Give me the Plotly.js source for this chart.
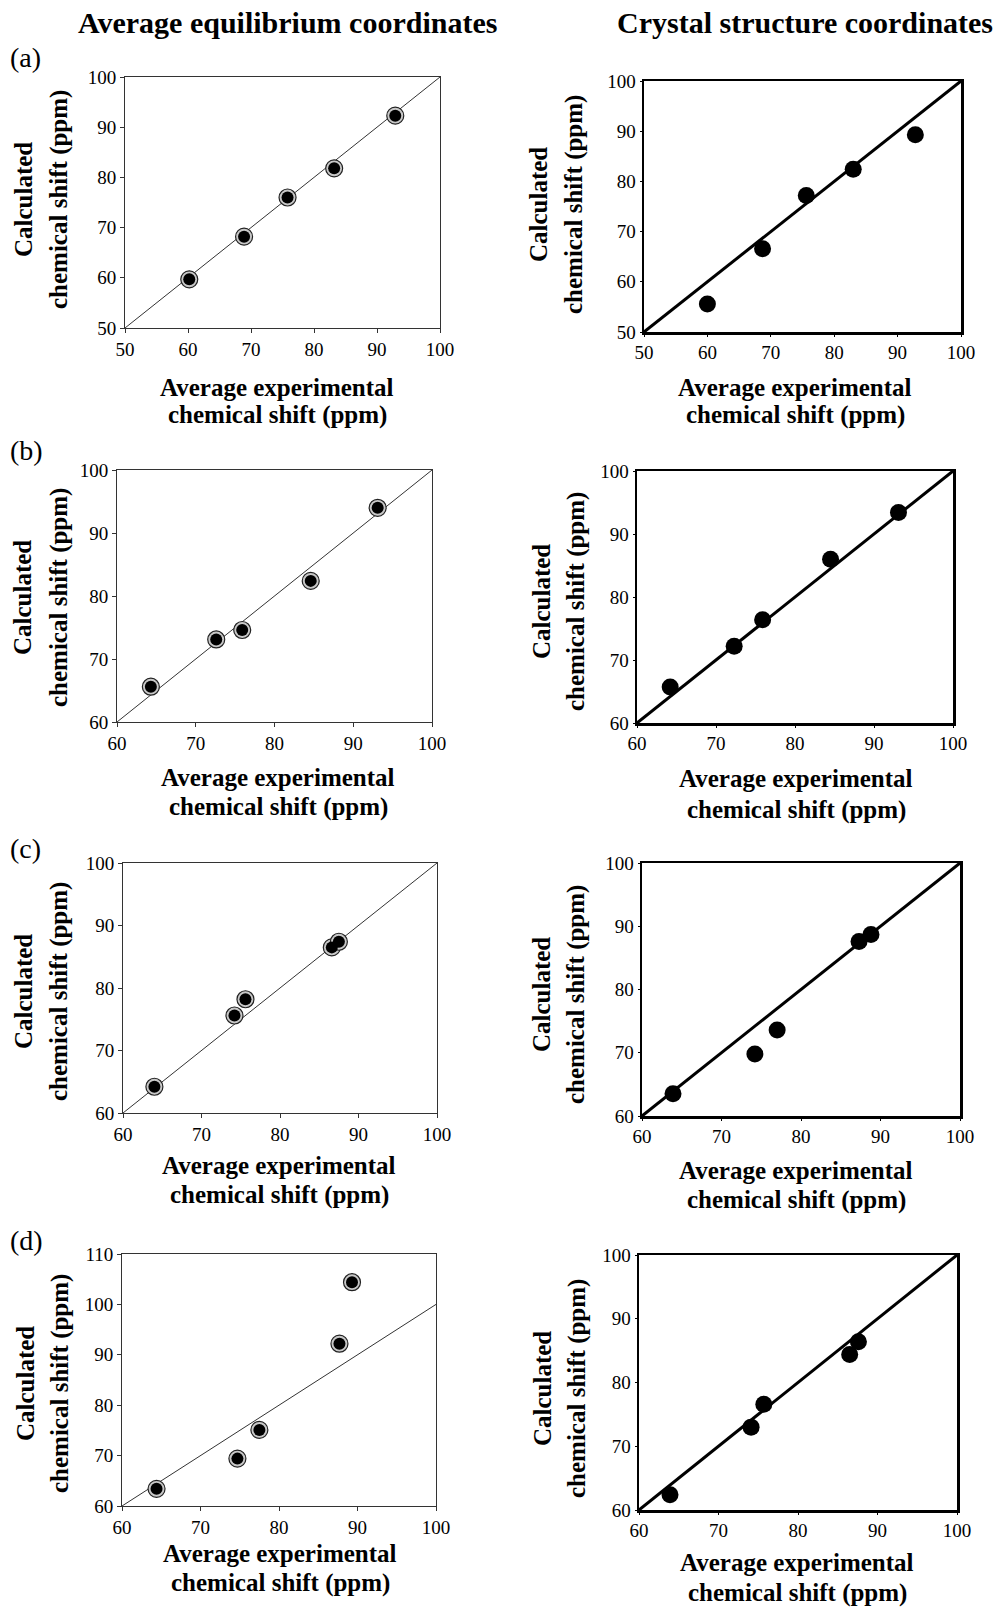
<!DOCTYPE html>
<html>
<head>
<meta charset="utf-8">
<script src="https://cdn.plot.ly/plotly-3.0.1.min.js"></script>
<style>html,body{margin:0;padding:0;background:#fff;}</style>
</head>
<body>
<div id="chart" style="width:995px;height:1607px;"></div>
<script>
// ---- data ----
var panelLabels = ["(a)", "(b)", "(c)", "(d)"];
var columnHeaders = ["Average equilibrium coordinates", "Crystal structure coordinates"];
var xTitleLines = ["Average experimental", "chemical shift (ppm)"];
var yTitleLines = ["Calculated", "chemical shift (ppm)"];

var aL_x = [60.2, 68.9, 75.8, 83.2, 92.9];
var aL_y = [59.7, 68.2, 76.0, 81.8, 92.3];
var aR_x = [60.0, 68.7, 75.6, 83.0, 92.8];
var aR_y = [55.6, 66.6, 77.2, 82.4, 89.3];
var bL_x = [64.3, 72.6, 75.9, 84.6, 93.1];
var bL_y = [65.6, 73.1, 74.6, 82.4, 94.0];
var bR_x = [64.2, 72.3, 75.9, 84.5, 93.1];
var bR_y = [65.7, 72.2, 76.4, 86.0, 93.4];
var cL_x = [64.0, 74.2, 75.6, 86.6, 87.5];
var cL_y = [64.2, 75.6, 78.2, 86.5, 87.4];
var cR_x = [63.9, 74.2, 77.0, 87.3, 88.8];
var cR_y = [63.5, 69.8, 73.6, 87.6, 88.7];
var dL_x = [64.4, 74.7, 77.5, 87.7, 89.3];
var dL_y = [63.4, 69.4, 75.1, 92.2, 104.4];
var dR_x = [63.9, 74.1, 75.7, 86.5, 87.6];
var dR_y = [62.4, 73.0, 76.6, 84.4, 86.4];

// axis ranges and y = x reference line ends
var xRanges = [[50,100],[50,100],[60,100],[60,100],[60,100],[60,100],[60,100],[60,100]];
var yRanges = [[50,100],[50,100],[60,100],[60,100],[60,100],[60,100],[60,110],[60,100]];
var refLineA = [50, 100];
var refLineBCD = [60, 100];

var seriesX = [aL_x, aR_x, bL_x, bR_x, cL_x, cR_x, dL_x, dR_x];
var seriesY = [aL_y, aR_y, bL_y, bR_y, cL_y, cR_y, dL_y, dR_y];
var refLines = [refLineA, refLineA, refLineBCD, refLineBCD, refLineBCD, refLineBCD, refLineBCD, refLineBCD];

// ---- layout geometry (pixels) ----
var W = 995, H = 1607;
var boxes = [
  [125, 440, 77, 328], [644, 961, 81, 332],
  [117, 432, 470, 722], [637, 953, 471, 723],
  [123, 437, 863, 1113], [642, 960, 863, 1116],
  [122, 436, 1254, 1506], [639, 957, 1255, 1510]
];
var xTitlePos = [[277,387,415],[795,387,415],[278,777,807],[796,779,810],[279,1165,1195],[796,1170,1200],[280,1553,1583],[797,1562,1593]];
var yTitlePos = [[23,59,200],[539,574,205],[23,59,598],[541,576,602],[23,59,992],[541,576,995],[25,60,1384],[542,577,1389]];
var labelPos = [57, 451, 848, 1240];

function px(x){ return x / W; }
function py(y){ return 1 - y / H; }

var FONT = "Liberation Serif, Times New Roman, serif";
var traces = [];
var layout = {
  width: W, height: H,
  margin: {l:0, r:0, t:0, b:0},
  paper_bgcolor: "#fff", plot_bgcolor: "#fff",
  showlegend: false,
  font: {family: FONT, color: "#000", size: 19},
  annotations: []
};

for (var i = 0; i < 8; i++) {
  var n = i + 1;
  var xa = n === 1 ? "x" : "x" + n;
  var ya = n === 1 ? "y" : "y" + n;
  var right = (i % 2 === 1);
  var b = boxes[i];
  var axColor = right ? "#000" : "#333";
  var axW = right ? 2.5 : 1;

  var common = {
    dtick: 10, tick0: 0,
    showgrid: false, zeroline: false,
    showline: true, mirror: true,
    linecolor: axColor, linewidth: axW,
    ticks: "outside", ticklen: right ? 2 : 4, tickwidth: 1, tickcolor: axColor,
    tickfont: {family: FONT, size: 19, color: "#000"},
    fixedrange: true
  };
  layout["xaxis" + (n === 1 ? "" : n)] = Object.assign({}, common, {
    domain: [px(b[0]), px(b[1])], range: xRanges[i], anchor: ya
  });
  layout["yaxis" + (n === 1 ? "" : n)] = Object.assign({}, common, {
    domain: [py(b[3]), py(b[2])], range: yRanges[i], anchor: xa
  });

  // y = x line
  traces.push({
    x: refLines[i], y: refLines[i], xaxis: xa, yaxis: ya,
    mode: "lines", line: {color: right ? "#000" : "#333", width: right ? 3 : 1},
    hoverinfo: "skip", cliponaxis: true
  });
  if (right) {
    traces.push({
      x: seriesX[i], y: seriesY[i], xaxis: xa, yaxis: ya,
      mode: "markers", marker: {size: 17, color: "#000", line: {width: 0}},
      cliponaxis: false
    });
  } else {
    traces.push({
      x: seriesX[i], y: seriesY[i], xaxis: xa, yaxis: ya,
      mode: "markers", marker: {size: 17, color: "#c8c8c8", line: {width: 1.2, color: "#222"}},
      cliponaxis: false
    });
    traces.push({
      x: seriesX[i], y: seriesY[i], xaxis: xa, yaxis: ya,
      mode: "markers", marker: {size: 12, color: "#000", line: {width: 0}},
      cliponaxis: false
    });
  }

  // x title (two lines)
  var xt = xTitlePos[i];
  for (var k = 0; k < 2; k++) {
    layout.annotations.push({
      xref: "paper", yref: "paper", x: px(xt[0]), y: py(xt[1 + k]),
      xanchor: "center", yanchor: "middle", showarrow: false,
      text: "<b>" + xTitleLines[k] + "</b>",
      font: {family: FONT, size: 25, color: "#000"}
    });
  }
  // y title (two lines, rotated)
  var yt = yTitlePos[i];
  for (var k2 = 0; k2 < 2; k2++) {
    layout.annotations.push({
      xref: "paper", yref: "paper", x: px(yt[k2]), y: py(yt[2]),
      xanchor: "center", yanchor: "middle", showarrow: false, textangle: -90,
      text: "<b>" + yTitleLines[k2] + "</b>",
      font: {family: FONT, size: 25, color: "#000"}
    });
  }
}

// column headers
layout.annotations.push({
  xref: "paper", yref: "paper", x: px(287), y: py(23), xanchor: "center", yanchor: "middle",
  showarrow: false, text: "<b>" + columnHeaders[0] + "</b>", font: {family: FONT, size: 30, color: "#000"}
});
layout.annotations.push({
  xref: "paper", yref: "paper", x: px(805), y: py(23), xanchor: "center", yanchor: "middle",
  showarrow: false, text: "<b>" + columnHeaders[1] + "</b>", font: {family: FONT, size: 30, color: "#000"}
});
// panel labels
for (var p = 0; p < 4; p++) {
  layout.annotations.push({
    xref: "paper", yref: "paper", x: px(8), y: py(labelPos[p]), xanchor: "left", yanchor: "middle",
    showarrow: false, text: panelLabels[p], font: {family: FONT, size: 28, color: "#000"}
  });
}

Plotly.newPlot("chart", traces, layout, {staticPlot: true, displayModeBar: false});
</script>
</body>
</html>
